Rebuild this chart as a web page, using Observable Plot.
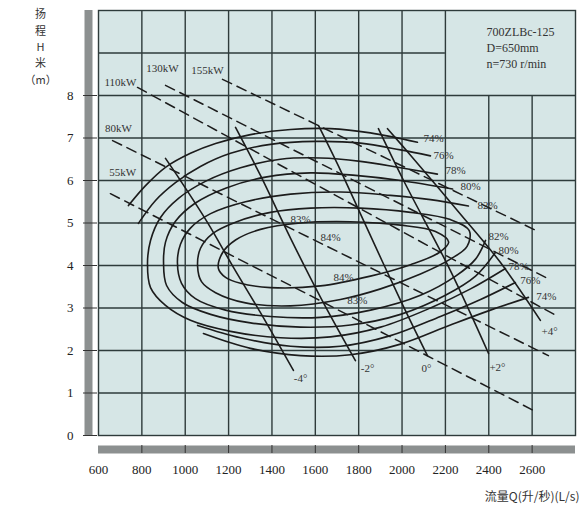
<!DOCTYPE html>
<html><head><meta charset="utf-8">
<script src="https://cdn.jsdelivr.net/npm/d3@7"></script>
<script src="https://cdn.jsdelivr.net/npm/@observablehq/plot@0.6"></script>
<style>body{margin:0;background:#fff;}</style>
</head><body><div id="chart"></div>
<script>
// ---- axis ticks ----
const xTicks = [600, 800, 1000, 1200, 1400, 1600, 1800, 2000, 2200, 2400, 2600];
const yTicks = [0, 1, 2, 3, 4, 5, 6, 7, 8];
const gridFullX = [800, 1000, 1200, 1400, 1600, 1800, 2000, 2200];
const gridShortX = [2400, 2600];
const gridFullY = [1, 2, 3, 4, 5, 6, 7, 8];
const gridShortY = [9];

// ---- efficiency curves (Q L/s, H m) ----
const eff74Top = [[738,5.41],[817,5.88],[909,6.31],[1024,6.64],[1140,6.87],[1301,7.08],[1486,7.2],[1670,7.22],[1854,7.12],[2071,6.9]];
const eff74Bottom = [[1084,2.4],[1301,2.05],[1532,1.88],[1762,1.9],[1993,2.15],[2223,2.6],[2408,2.95],[2583,3.25]];
const eff76Top = [[784,4.99],[863,5.53],[955,5.95],[1070,6.33],[1209,6.64],[1393,6.85],[1601,6.92],[1808,6.88],[1993,6.72],[2131,6.58]];
const eff76Bottom = [[1057,2.59],[1255,2.3],[1486,2.1],[1716,2.1],[1947,2.35],[2177,2.8],[2362,3.2],[2523,3.6]];
const eff78 = [[2163,6.15],[1993,6.3],[1808,6.45],[1624,6.53],[1439,6.5],[1255,6.3],[1093,5.98],[969,5.58],[886,5.13],[840,4.59],[826,4.05],[840,3.48],[909,3.06],[1024,2.71],[1209,2.45],[1439,2.3],[1670,2.32],[1901,2.55],[2131,3.0],[2316,3.45],[2477,3.93]];
const eff80 = [[2233,5.8],[1993,6.0],[1785,6.12],[1578,6.18],[1370,6.08],[1186,5.82],[1047,5.47],[955,5.04],[909,4.55],[900,4.07],[914,3.53],[987,3.13],[1117,2.85],[1301,2.65],[1532,2.55],[1762,2.6],[1993,2.85],[2200,3.3],[2339,3.75],[2431,4.31]];
const eff82 = [[2306,5.4],[2131,5.55],[1947,5.65],[1716,5.73],[1486,5.68],[1278,5.5],[1117,5.22],[1024,4.88],[978,4.5],[964,4.07],[983,3.58],[1047,3.22],[1186,2.95],[1393,2.8],[1624,2.78],[1855,2.95],[2085,3.3],[2247,3.75],[2339,4.15],[2385,4.59]];
const eff83 = [[1057,3.98],[1070,4.4],[1126,4.75],[1232,5.02],[1393,5.25],[1578,5.35],[1808,5.35],[2039,5.25],[2223,5.08],[2310,4.82],[2300,4.45],[2223,4.15],[2085,3.8],[1901,3.45],[1716,3.2],[1486,3.05],[1278,3.12],[1140,3.36],[1075,3.62]];
const eff84 = [[1153,3.93],[1172,4.3],[1232,4.6],[1347,4.85],[1532,5.0],[1762,5.03],[1993,4.95],[2154,4.8],[2215,4.55],[2170,4.3],[2039,4.02],[1854,3.75],[1624,3.52],[1393,3.48],[1255,3.58],[1186,3.72]];

// ---- blade angle curves ----
const bladeM4 = [[909,6.52],[978,6.0],[1103,5.01],[1223,3.95],[1347,2.89],[1499,1.53]];
const bladeM2 = [[1232,7.25],[1347,6.12],[1486,4.64],[1624,3.25],[1785,1.76]];
const blade0 = [[1615,7.29],[1716,6.24],[1822,5.06],[1993,3.18],[2117,1.88]];
const bladeP2 = [[1891,7.22],[2007,6.0],[2223,3.88],[2399,1.93]];
const bladeP4 = [[1933,7.22],[2040,6.59],[2256,5.29],[2454,4.07],[2638,2.71]];

// ---- shaft power lines ----
const power55 = [[655,5.69],[1532,3.41],[2625,0.54]];
const power80 = [[665,6.94],[2675,1.88]];
const power110 = [[780,8.19],[2712,2.82]];
const power130 = [[909,8.24],[2662,3.72]];
const power155 = [[1172,8.38],[2620,4.82]];

// ---- labels ----
const effLabels = [
  ["74%",2145,7.0],["76%",2191,6.59],["78%",2247,6.24],["80%",2316,5.86],["82%",2394,5.41],
  ["82%",2445,4.68],["80%",2491,4.35],["78%",2537,3.98],["76%",2592,3.65],["74%",2666,3.27],
  ["83%",1532,5.08],["84%",1670,4.66],["84%",1730,3.72],["83%",1794,3.18]
];
const bladeLabels = [["-4°",1532,1.34],["-2°",1841,1.58],["0°",2113,1.58],["+2°",2440,1.6],["+4°",2680,2.45]];
const powerLabels = [["55kW",711,6.19],["80kW",692,7.22],["110kW",701,8.31],["130kW",895,8.64],["155kW",1103,8.59]];
const infoLines = ["700ZLBc-125", "D=650mm", "n=730 r/min"];
const yTitleChars = ["扬", "程", "H", "米", "（m）"];
const xTitle = "流量Q(升/秒)(L/s)";

const toRows = (pts, id) => pts.map(([Q, H]) => ({Q, H, id}));
const openCurves = [
  ...toRows(eff74Top, "74t"), ...toRows(eff74Bottom, "74b"),
  ...toRows(eff76Top, "76t"), ...toRows(eff76Bottom, "76b"),
  ...toRows(eff78, "78"), ...toRows(eff80, "80"), ...toRows(eff82, "82")
];
const closedCurves = [...toRows(eff83, "83"), ...toRows(eff84, "84")];
const blades = [...toRows(bladeM4,"m4"), ...toRows(bladeM2,"m2"), ...toRows(blade0,"0"), ...toRows(bladeP2,"p2"), ...toRows(bladeP4,"p4")];
const powers = [...toRows(power55,"55"), ...toRows(power80,"80"), ...toRows(power110,"110"), ...toRows(power130,"130"), ...toRows(power155,"155")];
const lab = a => a.map(([t, Q, H]) => ({t, Q, H}));
const yTitleRows = yTitleChars.map((t, i) => ({t, Q: 333, H: 9.9 - i * 0.385}));

const ink = "#1c1c1c";
const grid = "#2e3b3b";
const serif = "Liberation Serif";

const chart = Plot.plot({
  width: 579, height: 512,
  marginLeft: 98, marginRight: 4, marginTop: 10, marginBottom: 77,
  style: {fontFamily: serif, background: "#fff"},
  x: {domain: [600, 2800], axis: null},
  y: {domain: [0, 10], axis: null},
  marks: [
    Plot.frame({fill: "#d6e6e6", stroke: null}),
    Plot.ruleX(gridFullX, {stroke: grid, strokeWidth: 1.4, y1: 0, y2: 10}),
    Plot.ruleX(gridShortX, {stroke: grid, strokeWidth: 1.4, y1: 0, y2: 8}),
    Plot.ruleY(gridFullY, {stroke: grid, strokeWidth: 1.4, x1: 600, x2: 2800}),
    Plot.ruleY(gridShortY, {stroke: grid, strokeWidth: 1.4, x1: 600, x2: 2200}),
    Plot.frame({stroke: grid, strokeWidth: 1.4}),
    // axis rails
    Plot.ruleX([600], {y1: 0, y2: 10, dx: -10, strokeWidth: 8, stroke: "#8c9090"}),
    Plot.ruleY([0], {x1: 600, x2: 2800, dy: 14, strokeWidth: 8, stroke: "#8c9090"}),
    Plot.axisY({ticks: yTicks, tickSize: 14, tickPadding: 0, text: null, label: null, dx: -1, stroke: "#333"}),
    Plot.axisX({ticks: xTicks.slice(1), tickSize: 8, text: null, label: null, dy: 10, stroke: "#333"}),
    Plot.axisY({ticks: yTicks, tickSize: 0, tickPadding: 25, label: null, tickFormat: d => String(d), fontSize: 13, fontFamily: serif, fill: "#222"}),
    Plot.axisX({ticks: xTicks, tickSize: 0, tickPadding: 29, label: null, tickFormat: d => String(d), fontSize: 13, fontFamily: serif, fill: "#222"}),
    // curves
    Plot.line(powers, {x: "Q", y: "H", z: "id", stroke: ink, strokeWidth: 1.5, strokeDasharray: "10,6"}),
    Plot.line(blades, {x: "Q", y: "H", z: "id", stroke: ink, strokeWidth: 1.6, curve: "catmull-rom"}),
    Plot.line(openCurves, {x: "Q", y: "H", z: "id", stroke: ink, strokeWidth: 1.6, curve: "catmull-rom"}),
    Plot.line(closedCurves, {x: "Q", y: "H", z: "id", stroke: ink, strokeWidth: 1.6, curve: "catmull-rom-closed"}),
    // labels
    Plot.text(lab(effLabels), {x: "Q", y: "H", text: "t", fontSize: 11, fill: "#333", fontFamily: serif}),
    Plot.text(lab(bladeLabels), {x: "Q", y: "H", text: "t", fontSize: 11, fill: "#333", fontFamily: serif}),
    Plot.text(lab(powerLabels), {x: "Q", y: "H", text: "t", fontSize: 11, fill: "#333", fontFamily: serif}),
    Plot.text([infoLines.join("\n")], {x: 2390, y: 9.68, text: d => d, textAnchor: "start", lineAnchor: "top", lineHeight: 1.35, fontSize: 12, fill: "#333", fontFamily: serif}),
    Plot.text(yTitleRows, {x: "Q", y: "H", text: "t", fontSize: 11, fill: "#333", fontFamily: "Noto Sans CJK SC"}),
    Plot.text([xTitle], {x: 2800, y: 0, dx: 4, dy: 62, text: d => d, textAnchor: "end", fontSize: 12, fill: "#333", fontFamily: "Noto Sans CJK SC"})
  ]
});
document.getElementById("chart").appendChild(chart);
</script>
</body></html>
